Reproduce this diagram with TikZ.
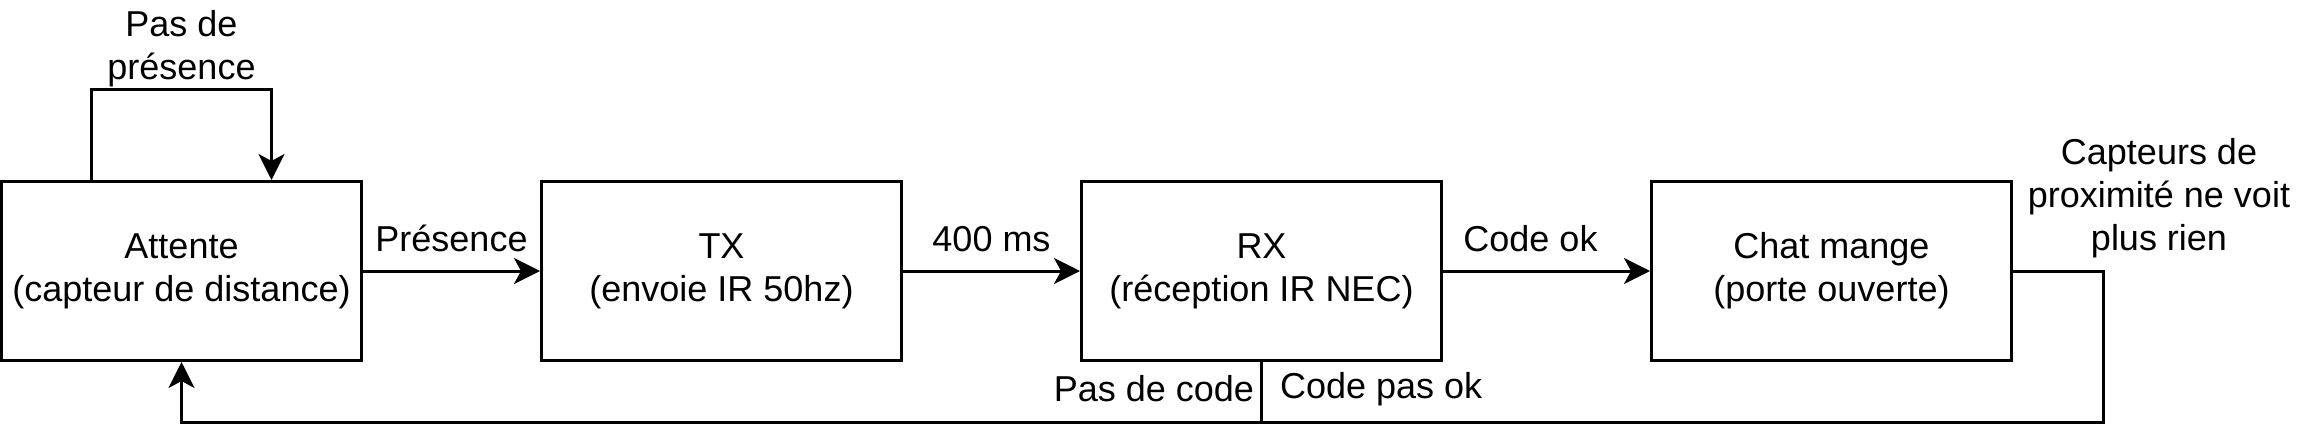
\documentclass[tikz,border=0pt]{standalone}
\usepackage{fontspec}
\setmainfont{Liberation Sans}
\usetikzlibrary{arrows.meta}

\begin{document}
\begin{tikzpicture}[x = 0.5pt, y = 0.5pt,
    etat/.style = {draw, line width = 1.5pt, minimum width = 180pt, minimum height = 89.5pt, align = center, inner sep = 0pt},
    fleche/.style = {line width = 1.5pt, -{Stealth[length = 13pt, width = 13pt, inset = 3.5pt]}},
    every node/.append style = {font = \fontsize{18}{21.5}\selectfont}]
    \useasboundingbox (0,0) rectangle (2298,447);
    \node[etat] (attente) at (181.5,176) {Attente\\(capteur de distance)};
    \node[etat] (tx) at (721.5,176) {TX\\(envoie IR 50hz)};
    \node[etat] (rx) at (1261.5,176) {RX\\(réception IR NEC)};
    \node[etat] (chat) at (1831.5,176) {Chat mange\\(porte ouverte)};
    \coordinate (bas) at (0,25);
    \begin{scope}[every node/.append style = {align = center, inner sep = 3pt}]
        \draw[fleche] ([xshift = -45pt]attente.north) -- ++(0,91) -| node[pos = 0.25, above, yshift = -2.5pt] (pasdepresence) {Pas de\\présence} ([xshift = 45pt]attente.north);
        \draw[fleche] (attente) -- node[above = 6pt] (presence) {Présence} (tx);
        \draw[fleche] (tx) -- node[above = 6pt] (attente400) {400 ms} (rx);
        \draw[fleche] (rx) -- node[above = 6pt, xshift = -8pt] (codeok) {Code ok} (chat);
        \draw[line width = 1.5pt] (rx.south) -- node[pos = 0.45, left] (pasdecode) {Pas de code} node[pos = 0.45, right, xshift = 5.5pt] (codepasok) {Code pas ok} (rx.south |- bas);
        \draw[fleche] (chat.east) -| ++(90,-151) -| (attente.south);
        \node (capteurs) at (2159,249) {Capteurs de\\proximité ne voit\\plus rien};
    \end{scope}
\end{tikzpicture}
\end{document}
